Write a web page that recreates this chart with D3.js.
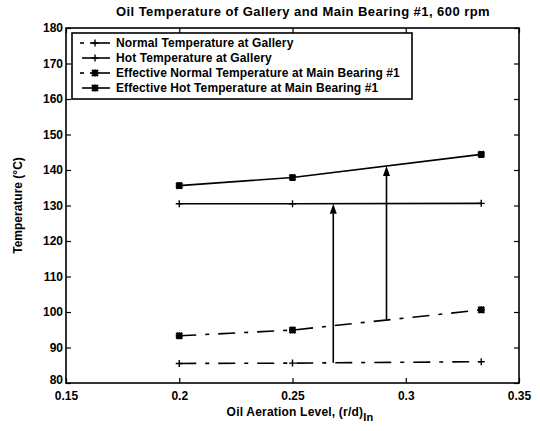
<!DOCTYPE html>
<html>
<head>
<meta charset="utf-8">
<script src="https://cdn.jsdelivr.net/npm/d3@7"></script>
<style>
  html, body { margin: 0; padding: 0; background: #fff; }
  svg { display: block; }
  text { font-family: "Liberation Sans", Arial, Helvetica, sans-serif; font-weight: bold; fill: #000; }
</style>
</head>
<body>
<svg id="chart" width="540" height="431"></svg>
<script>
// Oil aeration levels (r/d)_in at which temperatures were evaluated
const aeration = [0.2, 0.25, 1 / 3];

// Temperatures in °C
const normalGallery = [85.5, 85.6, 86.0];
const hotGallery = [130.5, 130.5, 130.6];
const effNormalBearing = [93.3, 94.9, 100.6];
const effHotBearing = [135.6, 137.9, 144.4];

const seriesNames = [
  "Normal Temperature at Gallery",
  "Hot Temperature at Gallery",
  "Effective Normal Temperature at Main Bearing #1",
  "Effective Hot Temperature at Main Bearing #1"
];

// Positions along the aeration axis of the two rise arrows
const arrowAt = [0.268, 0.2915];

const xTicks = [0.15, 0.2, 0.25, 0.3, 0.35];
const xTickLabels = ["0.15", "0.2", "0.25", "0.3", "0.35"];
const yTicks = [80, 90, 100, 110, 120, 130, 140, 150, 160, 170, 180];

const svg = d3.select("#chart");
const L = 66, R = 519, T = 28, B = 383;

const x = d3.scaleLinear().domain([0.15, 0.35]).range([L, R]);
const y = d3.scaleLinear().domain([80, 180]).range([B, T]);

// Title
svg.append("text")
  .attr("x", 303).attr("y", 16)
  .attr("text-anchor", "middle")
  .style("font-size", "13px")
  .style("letter-spacing", "0.45px")
  .text("Oil Temperature of Gallery and Main Bearing #1, 600 rpm");

// Axes with inward ticks on all four sides
const tickLen = 5;
const fmtX = (d, i) => xTickLabels[i];
svg.append("g").attr("transform", `translate(0,${B})`)
  .call(d3.axisBottom(x).tickValues(xTicks).tickFormat(fmtX).tickSizeInner(-tickLen).tickSizeOuter(0).tickPadding(6))
  .call(g => g.selectAll("text").style("font-size", "12px").attr("dy", "0.9em"));
svg.append("g").attr("transform", `translate(0,${T})`)
  .call(d3.axisTop(x).tickValues(xTicks).tickFormat("").tickSizeInner(-tickLen).tickSizeOuter(0));
svg.append("g").attr("transform", `translate(${L},0)`)
  .call(d3.axisLeft(y).tickValues(yTicks).tickFormat(d3.format("d")).tickSizeInner(-tickLen).tickSizeOuter(0).tickPadding(3))
  .call(g => g.selectAll("text").style("font-size", "12px"))
  // the bottom label sits a little above its tick, clear of the x labels
  .call(g => g.selectAll(".tick text").filter(d => d === 80).attr("dy", "0.0em"));
svg.append("g").attr("transform", `translate(${R},0)`)
  .call(d3.axisRight(y).tickValues(yTicks).tickFormat("").tickSizeInner(-tickLen).tickSizeOuter(0));
svg.selectAll(".domain").remove();
svg.selectAll(".tick line").attr("stroke", "#000").attr("stroke-width", 1.2);

// Plot frame
svg.append("rect")
  .attr("x", L).attr("y", T).attr("width", R - L).attr("height", B - T)
  .attr("fill", "none").attr("stroke", "#000").attr("stroke-width", 1.6);

// Axis titles
svg.append("text")
  .attr("transform", `translate(22,${(T + B) / 2}) rotate(-90)`)
  .attr("text-anchor", "middle")
  .style("font-size", "12px")
  .text("Temperature (°C)");

const xl = svg.append("text")
  .attr("x", 300).attr("y", 416)
  .attr("text-anchor", "middle")
  .style("font-size", "12px")
  .style("letter-spacing", "0.2px");
xl.append("tspan").text("Oil Aeration Level, (r/d)");
xl.append("tspan").attr("dy", 5).style("font-size", "11px").text("In");

// Series styling
const dashDot = "17,9,4,9";
const styles = [
  { values: normalGallery, dash: dashDot, marker: "plus" },
  { values: hotGallery, dash: null, marker: "plus" },
  { values: effNormalBearing, dash: dashDot, marker: "star" },
  { values: effHotBearing, dash: null, marker: "star" }
];

function drawMarker(g, cx, cy, type) {
  const s = 3.5;
  let d = `M${cx - s},${cy}H${cx + s}M${cx},${cy - s}V${cy + s}`;
  let w = 1.4;
  if (type === "star") {
    const k = 3;
    d += `M${cx - k},${cy - k}L${cx + k},${cy + k}M${cx - k},${cy + k}L${cx + k},${cy - k}`;
    w = 2.2;
  }
  g.append("path").attr("d", d).attr("stroke", "#000").attr("stroke-width", w).attr("fill", "none");
}

const line = d3.line().x(d => x(d[0])).y(d => y(d[1]));
const plot = svg.append("g");
styles.forEach(s => {
  const pts = aeration.map((a, i) => [a, s.values[i]]);
  plot.append("path")
    .attr("d", line(pts))
    .attr("fill", "none").attr("stroke", "#000").attr("stroke-width", 1.6)
    .attr("stroke-dasharray", s.dash);
  pts.forEach(p => drawMarker(plot, x(p[0]), y(p[1]), s.marker));
});

// Rise arrows: gallery normal -> gallery hot, bearing normal -> bearing hot
function valueAt(series, a) {
  const i = a <= aeration[1] ? 0 : 1;
  const t = (a - aeration[i]) / (aeration[i + 1] - aeration[i]);
  return series[i] + t * (series[i + 1] - series[i]);
}
const arrowPairs = [[normalGallery, hotGallery], [effNormalBearing, effHotBearing]];
arrowAt.forEach((a, k) => {
  const ax = x(a);
  const y0 = y(valueAt(arrowPairs[k][0], a));
  const y1 = y(valueAt(arrowPairs[k][1], a));
  const head = 10, hw = 3.5;
  plot.append("line")
    .attr("x1", ax).attr("x2", ax).attr("y1", y0).attr("y2", y1 + head)
    .attr("stroke", "#000").attr("stroke-width", 1.6);
  plot.append("path")
    .attr("d", `M${ax},${y1}L${ax - hw},${y1 + head}L${ax + hw},${y1 + head}Z`)
    .attr("fill", "#000");
});

// Legend
const lg = svg.append("g");
lg.append("rect")
  .attr("x", 72).attr("y", 33).attr("width", 340).attr("height", 66)
  .attr("fill", "#fff").attr("stroke", "#000").attr("stroke-width", 1.6);
seriesNames.forEach((name, i) => {
  const cy = 43 + i * 15;
  const s = styles[i];
  if (s.dash) {
    lg.append("line").attr("x1", 80).attr("x2", 84).attr("y1", cy).attr("y2", cy)
      .attr("stroke", "#000").attr("stroke-width", 1.6);
    lg.append("line").attr("x1", 90).attr("x2", 110).attr("y1", cy).attr("y2", cy)
      .attr("stroke", "#000").attr("stroke-width", 1.6);
  } else {
    lg.append("line").attr("x1", 82).attr("x2", 110).attr("y1", cy).attr("y2", cy)
      .attr("stroke", "#000").attr("stroke-width", 1.6);
  }
  drawMarker(lg, 95, cy, s.marker);
  lg.append("text").attr("x", 116).attr("y", cy).attr("dy", "0.35em")
    .style("font-size", "12px").style("letter-spacing", "0.1px").text(name);
});
</script>
</body>
</html>
